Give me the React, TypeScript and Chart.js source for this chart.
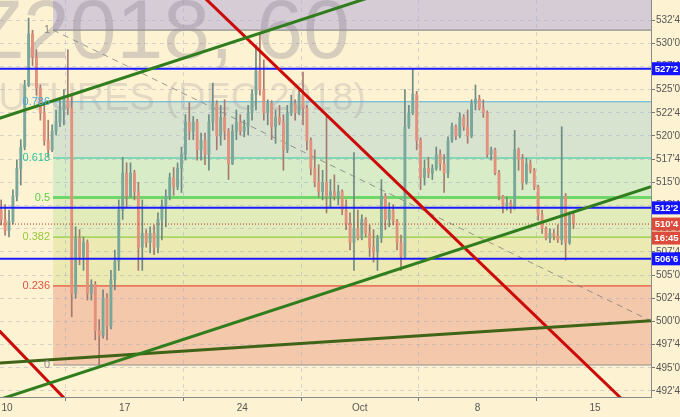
import React, { useEffect, useRef } from 'react';
import { Chart, registerables } from 'chart.js';

Chart.register(...registerables);

// ---------- data ----------
const xTickValues = [0, 5, 10, 15, 20, 25];
const xTickLabels = ['10', '17', '24', 'Oct', '8', '15'];
const yTickValues = [492.5, 495, 497.5, 500, 502.5, 505, 507.5, 510, 512.5, 515, 517.5, 520, 522.5, 525, 527.5, 530, 532.5];

// hourly-ish bars, trading-day axis (Sep 10 = 0)
const candleStart = -0.25;
const candleStep = 1 / 6;

const opens = [
  512, 511, 509.8, 510.8, 513.5, 516.5, 518.8, 525.5, 531, 528.5,
  525.2, 522.5, 519.5, 518.5, 520.5, 521.5, 522.8, 524, 523, 503,
  509, 507, 508.5, 503, 504, 499, 498.5, 502.5, 499.5, 504.5,
  506.5, 512, 516, 513.5, 516, 514, 508, 509.5, 508.5, 509.5,
  508, 511, 512.5, 513.5, 515.5, 514.5, 516.5, 518, 521.5, 520.5,
  521.5, 518.5, 519.5, 518, 521.5, 523.5, 520, 522, 520.5, 517,
  520.5, 521.5, 520.5, 521, 522.5, 524.5, 527, 525, 522.5, 523.5,
  521, 522, 521.5, 518.5, 522.5, 523.5, 522.5, 524.5, 523, 519.5,
  516.5, 515, 514, 515, 513.5, 514, 513.5, 514, 512, 510.5,
  508.5, 510, 509, 511, 509.5, 508, 507.5, 509, 513.5, 511,
  512, 510.8, 508.5, 507, 521, 522.5, 524.5, 519.5, 515.5, 516.5,
  516, 516.5, 518, 517, 516, 519.5, 521, 520, 522, 521,
  520, 523.5, 524, 523, 522.5, 518, 518.5, 516, 513.5, 512.5,
  512.8, 512.3, 518.5, 517.5, 515, 517, 516.3, 514.5, 511.5, 510,
  509, 509.5, 509.2, 508.8, 513.5, 508.5, 511.5,
];
const highs = [
  513.1, 512.6, 512, 514.2, 517.4, 519.6, 526, 532.7, 531.4, 529.3,
  525.5, 523.3, 521.7, 521.2, 522.8, 523.9, 525, 529.3, 524.5, 510.2,
  509.9, 509.1, 508.8, 504.5, 504.3, 500.2, 503.4, 503, 505.5, 507.7,
  513.1, 517.7, 517.1, 517.1, 516.3, 515, 513.1, 509.9, 510.2, 510.4,
  511.7, 513.1, 514.2, 516, 516.6, 517.1, 518.8, 522.3, 523.6, 522.1,
  521.8, 520.3, 520.3, 522.3, 525.7, 523.8, 523.3, 523.9, 520.8, 521.2,
  522.8, 522.3, 521.7, 523.3, 525, 529.8, 531.1, 528.2, 523.9, 523.8,
  522.8, 523.3, 522.3, 523.3, 524.4, 523.9, 525, 526.9, 523.3, 519.8,
  518.5, 516.9, 516.3, 522.1, 515.3, 515.8, 514.7, 514.2, 513.1, 511.7,
  518.2, 512, 511.5, 511.2, 510.4, 509.9, 509.3, 515.3, 513.8, 512.8,
  512.6, 511, 509.3, 525, 523.3, 527.2, 524.8, 519.8, 517.4, 517.7,
  516.9, 518.8, 518.5, 518, 519.9, 521.4, 521.2, 522.5, 522.3, 522.8,
  523.9, 525.5, 524.4, 523.9, 522.7, 518.8, 518.7, 516.3, 513.6, 513.4,
  513.1, 520.6, 518.7, 518, 517.6, 517.4, 516.5, 514.7, 512, 510.2,
  510, 509.9, 510.4, 521, 513.8, 511.8, 511.8,
];
const lows = [
  510.4, 509.3, 509.1, 510.5, 513, 514.7, 518.5, 525.3, 527.6, 524.4,
  521.7, 519, 517.7, 518.3, 520.1, 521, 521.2, 522.3, 500.5, 502.5,
  506.1, 505.5, 502.3, 502.3, 498, 495.3, 498.2, 498, 499.2, 503.4,
  505.5, 511, 512.3, 513.4, 513.1, 505.5, 505.5, 508, 507.4, 507.2,
  507.4, 508.8, 510.2, 513.1, 513.6, 514.2, 513.9, 517.4, 519.6, 519.6,
  517.4, 517.4, 516.9, 516.3, 520.6, 518.5, 519, 519.6, 515.3, 516.9,
  519.6, 520.1, 519.9, 520.1, 521.7, 522.8, 524.4, 521.7, 521.2, 519.6,
  519.2, 521.2, 516.3, 518.2, 522.2, 521.7, 522.3, 521.2, 518.5, 515.8,
  514.5, 513.4, 513.1, 511.7, 512.3, 513.1, 512.6, 511.5, 509.9, 507.7,
  505.5, 508.8, 508.8, 509.1, 507, 506.4, 505.5, 508.5, 509.9, 510.2,
  510.4, 507.7, 505.5, 506.8, 520.8, 522.3, 518.5, 514.2, 514.7, 515.5,
  515.3, 516.3, 516.3, 513.9, 515.5, 519.3, 519.6, 519.8, 520.6, 519.2,
  519.8, 522.8, 522.8, 522, 517.7, 517.4, 515.8, 513.1, 511.7, 512,
  511.7, 512.1, 516.3, 514.2, 514.8, 516, 514.2, 510.9, 509.5, 508.8,
  508.5, 508.8, 508.5, 508.3, 506.6, 508.3, 510,
];
const closes = [
  511, 509.8, 510.8, 513.5, 516.5, 518.8, 525.5, 531, 528.5, 525.2,
  522.5, 519.5, 518.5, 520.5, 521.5, 522.8, 524, 523, 503, 509,
  507, 508.5, 503, 504, 499, 498.5, 502.5, 499.5, 504.5, 506.5,
  512, 516, 513.5, 516, 514, 508, 509.5, 508.5, 509.5, 508,
  511, 512.5, 513.5, 515.5, 514.5, 516.5, 518, 521.5, 520.5, 521.5,
  518.5, 519.5, 518, 521.5, 523.5, 520, 522, 520.5, 517, 520.5,
  521.5, 520.5, 521, 522.5, 524.5, 527, 525, 522.5, 523.5, 521,
  522, 521.5, 518.5, 522.5, 523.5, 522.5, 524.5, 523, 519.5, 516.5,
  515, 514, 515, 513.5, 514, 513.5, 514, 512, 510.5, 508.5,
  510, 509, 511, 509.5, 508, 507.5, 509, 513.5, 511, 512,
  510.8, 508.5, 507, 521, 522.5, 524.5, 519.5, 515.5, 516.5, 516,
  516.5, 518, 517, 516, 519.5, 521, 520, 522, 521, 520,
  523.5, 524, 523, 522.5, 518, 518.5, 516, 513.5, 512.5, 512.8,
  512.3, 518.5, 517.5, 515, 517, 516.3, 514.5, 511.5, 510, 509,
  509.5, 509.2, 508.8, 513.5, 508.5, 511.5, 510.5,
];

// Fibonacci retracement
const fibLow = 495.3;
const fibHigh = 531.42;
const fibStartDay = 1.956;
const fibLevels = [1, 0.786, 0.618, 0.5, 0.382, 0.236, 0];
const fibLabels = ['1', '0.786', '0.618', '0.5', '0.382', '0.236', '0'];

// horizontal price levels
const blueLevels = [527.25, 512.25, 506.75];
const lastPrice = 510.5;
const countdown = '16:45';

// trend lines [day, price]
const greenUpper = [[-0.72, 521.58], [16.71, 536.01]];
const greenLower = [[-0.3, 491.6], [27.38, 514.53]];
const oliveLine = [[-0.3, 495.52], [27.38, 500.06]];
const redMain = [[7.78, 536.41], [27.76, 487.68]];
const redLower = [[-0.72, 500.02], [3.1, 489.96]];
const fibDiagonal = [[1.956, 531.42], [27.38, 500.05]];

const xMin = -0.3;
const xMax = 27.38;
const yMin = 491.85;
const yMax = 534.66;

// ---------- styles ----------
const BG = '#fdf3d3';
const FONT = "'Liberation Sans', Arial, sans-serif";
const fibLineColors = ['#8e8e8e', '#55b0dc', '#33c6a0', '#6fd66a', '#8fcc46', '#e4503c', '#8e8e8e'];
const fibLabelColors = ['#8a8a8a', '#4aa8d8', '#2ec49c', '#58cf40', '#98c83a', '#e0533e', '#8a8a8a'];
const fibFillColors = ['#d6ccd5', '#e9dec2', '#d7e2cf', '#d7ecc7', '#e1ecba', '#ece9b2', '#f4c8aa'];

const fmtPrice = (v: number) => {
  const i = Math.floor(v + 1e-9);
  const e = Math.round((v - i) * 8);
  return `${i}'${e}`;
};

const pts = (arr: number[][]) => arr.map(([x, y]) => ({ x, y }));

export default function App() {
  const ref = useRef<HTMLCanvasElement>(null);

  useEffect(() => {
    document.body.style.margin = '0';
    document.body.style.background = BG;
    const canvas = ref.current!;
    const days = opens.map((_, i) => candleStart + i * candleStep);
    const up = opens.map((o, i) => closes[i] >= o);

    const datasets: any[] = [];
    fibLevels.forEach((lv, i) => {
      const price = fibLow + (fibHigh - fibLow) * lv;
      datasets.push({
        type: 'line',
        data: [{ x: fibStartDay, y: price }, { x: xMax, y: price }],
        borderColor: fibLineColors[i],
        borderWidth: lv === 0.5 ? 3 : 1.2,
        pointRadius: 0,
        fill: i === 0 ? 'end' : '-1',
        backgroundColor: fibFillColors[i],
        order: 10,
      });
    });
    datasets.push({
      type: 'line',
      data: pts(fibDiagonal),
      borderColor: 'rgba(120,120,120,0.75)',
      borderWidth: 1,
      borderDash: [6, 5],
      pointRadius: 0,
      fill: false,
      order: 9,
    });
    datasets.push({
      type: 'bar',
      data: days.map((d, i) => ({ x: d, y: [lows[i], highs[i]] })),
      backgroundColor: up.map((u) => (u ? '#6f8a83' : '#a77a70')),
      barThickness: 1,
      grouped: false,
      borderWidth: 0,
      order: 6,
    });
    datasets.push({
      type: 'bar',
      data: days.map((d, i) => ({ x: d, y: [Math.min(opens[i], closes[i]), Math.max(opens[i], closes[i])] })),
      backgroundColor: up.map((u) => (u ? '#79a89b' : '#e3907c')),
      barThickness: 2.2,
      grouped: false,
      borderWidth: 0,
      order: 5,
    });
    blueLevels.forEach((p) => {
      datasets.push({
        type: 'line',
        data: [{ x: xMin, y: p }, { x: xMax, y: p }],
        borderColor: '#1a1aff',
        borderWidth: 2,
        pointRadius: 0,
        fill: false,
        order: 3,
      });
    });
    datasets.push({
      type: 'line',
      data: [{ x: xMin, y: lastPrice }, { x: xMax, y: lastPrice }],
      borderColor: '#b5342a',
      borderWidth: 1,
      borderDash: [1, 2],
      pointRadius: 0,
      fill: false,
      order: 3,
    });
    const trend = (arr: number[][], color: string) => ({
      type: 'line',
      data: pts(arr),
      borderColor: color,
      borderWidth: 3,
      pointRadius: 0,
      fill: false,
      order: 2,
    });
    datasets.push(trend(greenUpper, '#2f7d1c'));
    datasets.push(trend(greenLower, '#2f7d1c'));
    datasets.push(trend(oliveLine, '#3f6418'));
    datasets.push(trend(redMain, '#cc0a0a'));
    datasets.push(trend(redLower, '#cc0a0a'));

    const watermark = {
      id: 'watermark',
      beforeDatasetsDraw(chart: any) {
        const ctx = chart.ctx;
        ctx.save();
        ctx.textBaseline = 'alphabetic';
        ctx.textAlign = 'right';
        ctx.fillStyle = 'rgba(130,120,135,0.30)';
        ctx.font = `84px ${FONT}`;
        ctx.fillText('ZCZ2018, 60', 350, 58);
        ctx.fillStyle = 'rgba(130,120,135,0.20)';
        ctx.font = `38px ${FONT}`;
        ctx.fillText('CORN FUTURES (DEC 2018)', 366, 110);
        ctx.restore();
      },
    };

    const overlay = {
      id: 'overlay',
      afterDatasetsDraw(chart: any) {
        const ctx = chart.ctx;
        const xs = chart.scales.x;
        const ys = chart.scales.y;
        ctx.save();
        ctx.font = `11px ${FONT}`;
        ctx.textAlign = 'right';
        ctx.textBaseline = 'middle';
        const lx = xs.getPixelForValue(fibStartDay) - 3;
        fibLevels.forEach((lv, i) => {
          const price = fibLow + (fibHigh - fibLow) * lv;
          ctx.fillStyle = fibLabelColors[i];
          ctx.fillText(fibLabels[i], lx, ys.getPixelForValue(price));
        });
        ctx.restore();
      },
      afterDraw(chart: any) {
        const ctx = chart.ctx;
        const ys = chart.scales.y;
        const x0 = chart.chartArea.right + 1;
        const box = (py: number, text: string, color: string) => {
          ctx.fillStyle = color;
          ctx.fillRect(x0, py - 6.5, 680 - x0, 13);
          ctx.fillStyle = '#ffffff';
          ctx.font = `bold 9.5px ${FONT}`;
          ctx.textAlign = 'center';
          ctx.textBaseline = 'middle';
          ctx.fillText(text, (x0 + 680) / 2 + 0.5, py + 0.5);
        };
        ctx.save();
        blueLevels.forEach((p) => box(ys.getPixelForValue(p), fmtPrice(p), '#1414ff'));
        const lp = ys.getPixelForValue(lastPrice);
        box(lp, fmtPrice(lastPrice), '#dc4b3b');
        box(lp + 14, countdown, '#dc4b3b');
        ctx.restore();
      },
    };

    const chart = new Chart(canvas, {
      type: 'bar',
      data: { datasets },
      options: {
        animation: false,
        responsive: false,
        events: [],
        layout: { padding: 0 },
        plugins: {
          legend: { display: false },
          tooltip: { enabled: false },
          filler: { drawTime: 'beforeDraw' } as any,
        },
        scales: {
          x: {
            type: 'linear',
            min: xMin,
            max: xMax,
            offset: false,
            grid: { color: 'rgba(165,170,200,0.45)', tickLength: 4, tickColor: '#777', drawTicks: true },
            border: { display: true, color: '#8a8a8a', dash: [4, 4] },
            ticks: {
              autoSkip: false,
              maxRotation: 0,
              color: '#555',
              padding: 1,
              font: { family: FONT, size: 10 },
              callback: (v: any) => {
                const idx = xTickValues.indexOf(Number(v));
                return idx >= 0 ? xTickLabels[idx] : '';
              },
            },
            afterBuildTicks: (s: any) => {
              s.ticks = xTickValues.map((value) => ({ value }));
            },
            afterFit: (s: any) => {
              s.height = 20;
              s.paddingLeft = 0;
              s.paddingRight = 0;
            },
          } as any,
          y: {
            type: 'linear',
            position: 'right',
            min: yMin,
            max: yMax,
            grid: { color: 'rgba(165,170,200,0.45)', tickLength: 4, tickColor: '#777', drawTicks: true },
            border: { display: true, color: '#8a8a8a', dash: [4, 4] },
            ticks: {
              color: '#555',
              padding: 1,
              font: { family: FONT, size: 10 },
              callback: (v: any) => fmtPrice(Number(v)),
            },
            afterBuildTicks: (s: any) => {
              s.ticks = yTickValues.map((value) => ({ value }));
            },
            afterFit: (s: any) => {
              s.width = 29;
              s.paddingTop = 0;
              s.paddingBottom = 0;
            },
          } as any,
        },
      },
      plugins: [watermark, overlay],
    });
    return () => chart.destroy();
  }, []);

  return (
    <div style={{ width: 680, height: 417, background: BG }}>
      <canvas ref={ref} width={680} height={417} style={{ display: 'block', width: 680, height: 417 }} />
    </div>
  );
}
